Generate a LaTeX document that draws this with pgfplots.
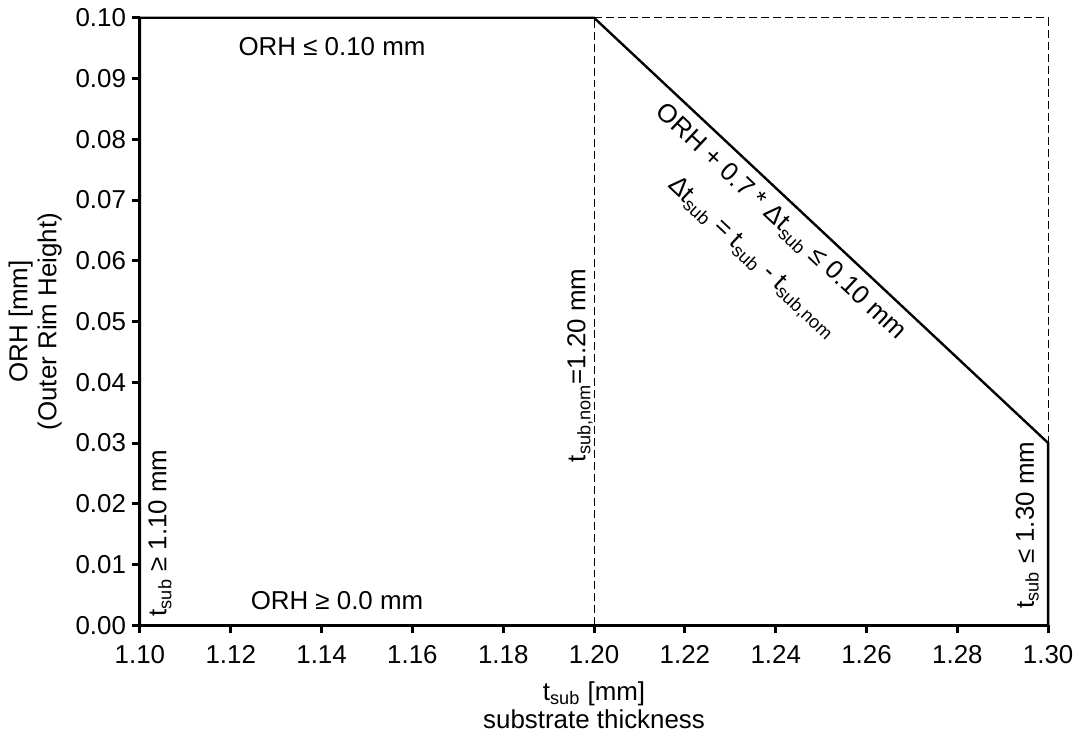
\documentclass[border=0pt]{standalone}
\usepackage{fontspec}
\setmainfont{Liberation Sans}
\usepackage{pgfplots}
\pgfplotsset{compat=1.18}
\newcommand\f{\fontsize{13pt}{15.6pt}\selectfont}
\begin{document}
\f
\begin{tikzpicture}
\begin{axis}[
  scale only axis, width=456pt, height=305pt,
  xmin=1.10, xmax=1.30, ymin=0, ymax=0.10,
  axis x line*=bottom, axis y line*=left,
  axis line style={line width=1.5pt},
  xtick={1.10,1.12,1.14,1.16,1.18,1.20,1.22,1.24,1.26,1.28,1.30},
  ytick={0,0.01,0.02,0.03,0.04,0.05,0.06,0.07,0.08,0.09,0.10},
  tick align=outside, major tick length=4pt,
  every tick/.style={black, line width=1.5pt},
  xticklabel style={yshift=-1.5pt, /pgf/number format/.cd, fixed, fixed zerofill, precision=2, assume math mode=true},
  yticklabel style={xshift=1.5pt, /pgf/number format/.cd, fixed, fixed zerofill, precision=2, assume math mode=true},
  scaled ticks=false,
  ticklabel style={font=\f},
  label style={font=\f},
  xlabel={t\textsubscript{sub} [mm]\\[-1.5pt]substrate thickness},
  xlabel style={align=center, yshift=0pt},
  ylabel={ORH [mm]\\[-1pt](Outer Rim Height)},
  ylabel style={align=center, yshift=-2pt},
  clip=false,
]
\addplot[black, line width=1.2pt] coordinates {(1.10,0) (1.10,0.10) (1.20,0.10) (1.30,0.03) (1.30,0) (1.10,0)};
\addplot[black, line width=0.5pt, dash pattern=on 4pt off 2pt] coordinates {(1.20,0) (1.20,0.10)};
\addplot[black, line width=0.5pt, dash pattern=on 4pt off 2pt] coordinates {(1.20,0.10) (1.30,0.10) (1.30,0.03)};
\node[font=\f] at (axis cs:1.1423,0.0952) {ORH ≤ 0.10 mm};
\node[font=\f] at (axis cs:1.1434,0.0041) {ORH ≥ 0.0 mm};
\node[font=\f, rotate=90] at (axis cs:1.1044,0.0152) {t\textsubscript{sub} ≥ 1.10 mm};
\node[font=\f, rotate=90] at (axis cs:1.1969,0.0428) {t\textsubscript{sub,nom}=1.20 mm};
\node[font=\f, rotate=90] at (axis cs:1.2954,0.0165) {t\textsubscript{sub} ≤ 1.30 mm};
\node[font=\f, rotate=-43.1] at (axis cs:1.2410,0.0663) {ORH + 0.7 * Δt\textsubscript{sub} ≤ 0.10 mm};
\node[font=\f, rotate=-43.1] at (axis cs:1.2348,0.0604) {Δt\textsubscript{sub} = t\textsubscript{sub} - t\textsubscript{sub,nom}};
\end{axis}
\end{tikzpicture}
\end{document}
